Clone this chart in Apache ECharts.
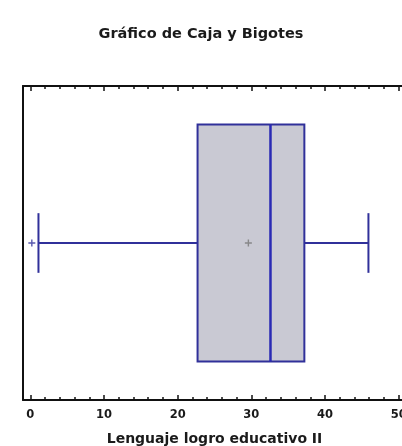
<!DOCTYPE html>
<html>
<head>
<meta charset="utf-8">
<script src="https://cdn.jsdelivr.net/npm/echarts@6/dist/echarts.min.js"></script>
<style>html,body{margin:0;padding:0;background:#fff}#c{width:402px;height:446px}</style>
</head>
<body>
<div id="c"></div>
<script>
// Data
const titleText = 'Gráfico de Caja y Bigotes';
const axisTitle = 'Lenguaje logro educativo II';
const categories = ['Lenguaje logro educativo II'];
const whiskerLow = [1.1];
const q1 = [22.7];
const median = [32.6];
const q3 = [37.2];
const whiskerHigh = [45.9];
const mean = [29.6];
const outliers = [0.2];
const xMin = -1, xMax = 51;

const boxData = categories.map((c, i) => [i, whiskerLow[i], q1[i], median[i], q3[i], whiskerHigh[i]]);
const meanData = categories.map((c, i) => [mean[i], i]);
const outlierData = outliers.map(v => [v, 0]);

const chart = echarts.init(document.getElementById('c'));
const lineCol = '#30309a';
const plus = 'path://M4,0h2v4h4v2h-4v4h-2v-4h-4v-2h4z';
const font = 'DejaVu Sans';
chart.setOption({
  animation: false,
  backgroundColor: '#fff',
  title: {
    text: titleText, left: 'center', top: 22,
    textStyle: {fontFamily: font, fontSize: 14.5, fontWeight: 'bold', color: '#1a1a1a'}
  },
  grid: {left: 23, top: 86, width: 383, height: 314, outerBoundsMode: 'none', containLabel: false},
  xAxis: [{
    type: 'value', min: xMin, max: xMax, position: 'bottom',
    name: axisTitle, nameLocation: 'middle', nameGap: 32,
    nameTextStyle: {fontFamily: font, fontSize: 14, fontWeight: 'bold', color: '#1a1a1a'},
    axisLine: {show: true, onZero: false, lineStyle: {color: '#111', width: 2}},
    axisTick: {show: true, inside: true, length: 5, lineStyle: {color: '#111', width: 1.5}},
    minorTick: {show: true, splitNumber: 5, length: 3, lineStyle: {color: '#111', width: 1.5}},
    axisLabel: {showMinLabel: false, showMaxLabel: false, margin: 9,
      fontFamily: font, fontSize: 11.5, fontWeight: 'bold', color: '#1a1a1a'},
    splitLine: {show: false}
  }, {
    type: 'value', min: xMin, max: xMax, position: 'top',
    axisLine: {show: true, onZero: false, lineStyle: {color: '#111', width: 2}},
    axisTick: {show: true, inside: true, length: 5, lineStyle: {color: '#111', width: 1.5}},
    minorTick: {show: true, splitNumber: 5, length: 3, lineStyle: {color: '#111', width: 1.5}},
    axisLabel: {show: false},
    splitLine: {show: false}
  }],
  yAxis: {
    type: 'category', data: categories,
    axisLine: {show: true, onZero: false, lineStyle: {color: '#111', width: 2}},
    axisTick: {show: false}, axisLabel: {show: false}, splitLine: {show: false}
  },
  series: [{
    type: 'custom',
    data: boxData,
    encode: {y: 0, x: [1, 2, 3, 4, 5]},
    renderItem: function (params, api) {
      const ci = api.value(0);
      const band = api.size([0, 1])[1];
      const p = v => api.coord([v, ci]);
      const lo = p(api.value(1)), a = p(api.value(2)), m = p(api.value(3)), b = p(api.value(4)), hi = p(api.value(5));
      const cy = lo[1];
      const hb = band * 0.377;
      const hc = band * 0.095;
      const ls = {stroke: lineCol, lineWidth: 2, fill: null};
      return {
        type: 'group',
        children: [
          {type: 'line', shape: {x1: lo[0], y1: cy, x2: a[0], y2: cy}, style: ls},
          {type: 'line', shape: {x1: b[0], y1: cy, x2: hi[0], y2: cy}, style: ls},
          {type: 'line', shape: {x1: lo[0], y1: cy - hc, x2: lo[0], y2: cy + hc}, style: ls},
          {type: 'line', shape: {x1: hi[0], y1: cy - hc, x2: hi[0], y2: cy + hc}, style: ls},
          {type: 'rect', shape: {x: a[0], y: cy - hb, width: b[0] - a[0], height: 2 * hb},
            style: {fill: '#c9c9d3', stroke: lineCol, lineWidth: 2}},
          {type: 'line', shape: {x1: m[0], y1: cy - hb, x2: m[0], y2: cy + hb}, style: {stroke: '#2a2ab4', lineWidth: 2.5}}
        ]
      };
    }
  }, {
    type: 'scatter', data: meanData, symbol: plus, symbolSize: 7,
    itemStyle: {color: '#777'}, z: 5
  }, {
    type: 'scatter', data: outlierData, symbol: plus, symbolSize: 7,
    itemStyle: {color: lineCol}, z: 5
  }]
});
</script>
</body>
</html>
